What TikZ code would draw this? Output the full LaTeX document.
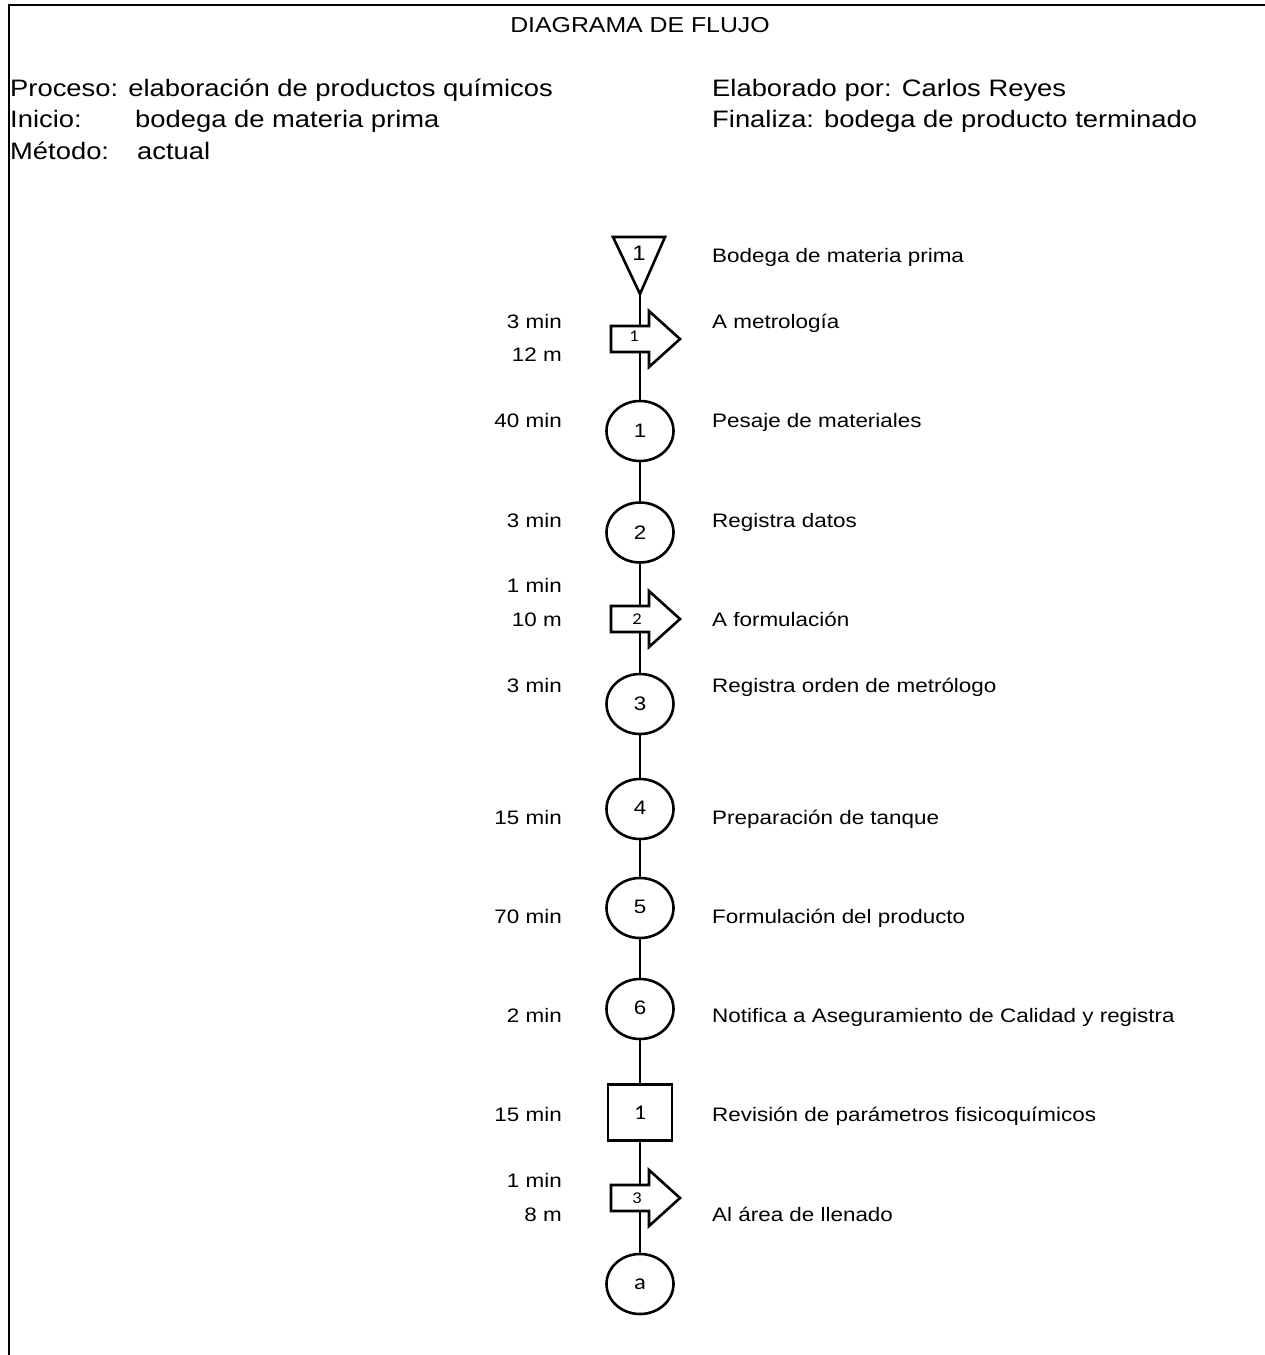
\documentclass[tikz,border=0pt]{standalone}
\usepackage{fontspec}
\setmainfont{Liberation Sans}[FakeStretch=1.15]
\newfontfamily\calfont{Carlito}[FakeStretch=1.12]
\usetikzlibrary{shapes.geometric,backgrounds}
\newcommand\bodyfont{\fontsize{19.5}{23}\selectfont}
\newcommand\hdrfont{\fontsize{23.8}{28}\selectfont}
\newcommand\flecha[4]{% name, y, text, text x
  \draw[shp] (611,#2-13) -- (649,#2-13) -- (649,#2-28) -- (680,#2) -- (649,#2+28) -- (649,#2+13) -- (611,#2+13) -- cycle;
  \node[anum] (#1) at (#4,#2) {#3};}
\begin{document}
\begin{tikzpicture}[x=1pt,y=-1pt,
  shp/.style={draw,line width=2.6pt,fill=white,line join=miter},
  circ/.style={ellipse,draw,line width=2.6pt,fill=white,minimum width=67pt,minimum height=60pt,inner sep=0pt,font=\bodyfont},
  sqbox/.style={rectangle,draw,line width=2.6pt,fill=white,minimum width=64pt,minimum height=56pt,inner sep=0pt,font=\calfont\fontsize{21}{24}\selectfont},
  anum/.style={inner sep=0pt,minimum height=28pt,font=\calfont\fontsize{16.5}{18}\selectfont},
  tnum/.style={inner sep=0pt,font=\fontsize{21}{24}\selectfont},
  lft/.style={anchor=base east,inner sep=0pt,font=\bodyfont},
  rgt/.style={anchor=base west,inner sep=0pt,font=\bodyfont},
  hdr/.style={anchor=base west,inner sep=0pt,font=\hdrfont},
  conn/.style={line width=2.6pt}]
\useasboundingbox (0,0) rectangle (1264,1355);
% frame
\draw[line width=2.4pt] (9,1356) -- (9,5) -- (1265,5);
% header
\node[anchor=base,inner sep=0pt,font=\fontsize{21.6}{26}\selectfont] (title) at (640,32) {DIAGRAMA DE FLUJO};
\node[hdr] (h1) at (10,96) {Proceso: elaboración de productos químicos};
\node[hdr] (h2) at (10,127) {Inicio:};
\node[hdr] (h2b) at (135,127) {bodega de materia prima};
\node[hdr] (h3) at (10,159) {Método:};
\node[hdr] (h3b) at (137,159) {actual};
\node[hdr] (h4) at (712,96) {Elaborado por: Carlos Reyes};
\node[hdr] (h5) at (712,127) {Finaliza: bodega de producto terminado};
% triangle (storage)
\draw[shp] (613,237) -- (665,237) -- (640,294) -- cycle;
\node[tnum] (t1) at (639,253) {1};
\coordinate (t1a) at (640,295);
% transports
\flecha{f1}{339}{\raisebox{6pt}{1}}{634}
\flecha{f2}{619}{2}{637}
\flecha{f3}{1198}{3}{637}
% operations
\node[circ] (c1) at (640,431) {1};
\node[circ] (c2) at (640,532.5) {2};
\node[circ] (c3) at (640,704) {3};
\node[circ] (c4) at (640,809) {\raisebox{2pt}{4}};
\node[circ] (c5) at (640,908) {\raisebox{2pt}{5}};
\node[circ] (c6) at (640,1009) {\raisebox{2pt}{6}};
\node[sqbox] (sq) at (640,1112.5) {1};
\node[circ,font=\calfont\fontsize{22}{24}\selectfont] (ca) at (640,1284) {a};
% connectors
\begin{scope}[on background layer]
\draw[conn] (t1a) -- (t1a |- f1.north);
\draw[conn] (f1.south -| c1.north) -- (c1.north);
\draw[conn] (c1) -- (c2);
\draw[conn] (c2.south) -- (c2.south |- f2.north);
\draw[conn] (f2.south -| c3.north) -- (c3.north);
\draw[conn] (c3) -- (c4);
\draw[conn] (c4) -- (c5);
\draw[conn] (c5) -- (c6);
\draw[conn] (c6) -- (sq);
\draw[conn] (sq.south) -- (sq.south |- f3.north);
\draw[conn] (f3.south -| ca.north) -- (ca.north);
\end{scope}
% left labels
\node[lft] (l1) at (562,328) {3 min};
\node[lft] (l2) at (562,361) {12 m};
\node[lft] (l3) at (562,427) {40 min};
\node[lft] (l4) at (562,527) {3 min};
\node[lft] (l5) at (562,592) {1 min};
\node[lft] (l6) at (562,626) {10 m};
\node[lft] (l7) at (562,692) {3 min};
\node[lft] (l8) at (562,824) {15 min};
\node[lft] (l9) at (562,923) {70 min};
\node[lft] (l10) at (562,1022) {2 min};
\node[lft] (l11) at (562,1121) {15 min};
\node[lft] (l12) at (562,1187) {1 min};
\node[lft] (l13) at (562,1221) {8 m};
% right labels
\node[rgt] (r1) at (712,262) {Bodega de materia prima};
\node[rgt] (r2) at (712,328) {A metrología};
\node[rgt] (r3) at (712,427) {Pesaje de materiales};
\node[rgt] (r4) at (712,527) {Registra datos};
\node[rgt] (r5) at (712,626) {A formulación};
\node[rgt] (r6) at (712,692) {Registra orden de metrólogo};
\node[rgt] (r7) at (712,824) {Preparación de tanque};
\node[rgt] (r8) at (712,923) {Formulación del producto};
\node[rgt] (r9) at (712,1022) {Notifica a Aseguramiento de Calidad y registra};
\node[rgt] (r10) at (712,1121) {Revisión de parámetros fisicoquímicos};
\node[rgt] (r11) at (712,1221) {Al área de llenado};
\end{tikzpicture}
\end{document}
